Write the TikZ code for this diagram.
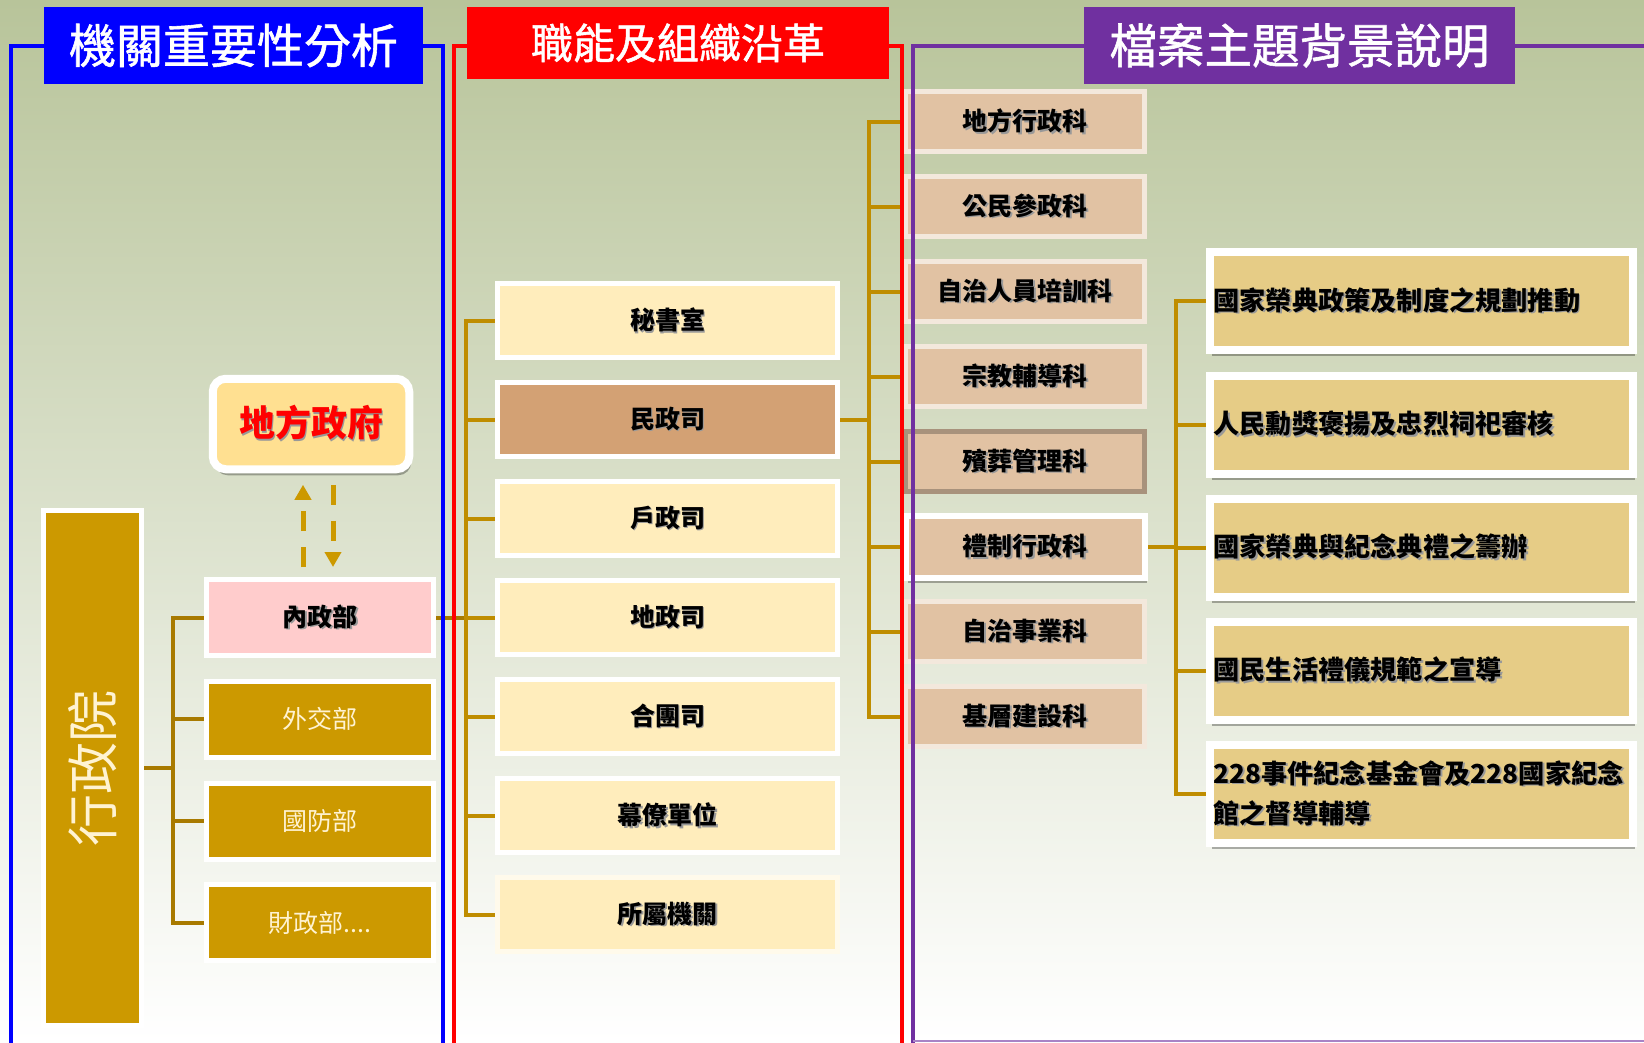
\documentclass[tikz,border=0pt]{standalone}
\usepackage{fontspec}
\setmainfont{Noto Sans CJK TC}
\newfontfamily\titlefont[FakeBold=1.2]{Noto Sans CJK TC}
\usetikzlibrary{shadows,arrows.meta}
\definecolor{bgtop}{RGB}{184,196,154}
\definecolor{bgmid}{RGB}{218,226,202}
\definecolor{gold}{RGB}{204,153,0}
\definecolor{lline}{RGB}{168,122,0}
\definecolor{mline}{RGB}{191,141,0}
\definecolor{cream}{RGB}{255,237,188}
\definecolor{minz}{RGB}{211,161,116}
\definecolor{kefill}{RGB}{225,194,163}
\definecolor{kebd}{RGB}{243,232,220}
\definecolor{binbd}{RGB}{168,146,124}
\definecolor{rfill}{RGB}{230,204,134}
\definecolor{pinkf}{RGB}{255,204,204}
\definecolor{localf}{RGB}{255,224,145}
\definecolor{ptitle}{RGB}{112,48,160}
\definecolor{goldtxt}{RGB}{255,243,210}
\pgfdeclarelayer{bg}
\pgfdeclarelayer{lines}
\pgfdeclarelayer{front}
\pgfsetlayers{bg,lines,main,front}
\newcommand{\shtxt}[1]{\leavevmode\rlap{\kern1.8pt\raisebox{-1.8pt}{\textcolor{black!40}{#1}}}#1}
\begin{document}
\begin{tikzpicture}[x=1pt,y=-1pt,
  box/.style={rectangle, inner sep=0pt, outer sep=0pt, line width=5pt, draw=white},
  lbox/.style={box, minimum width=227pt, minimum height=76pt, font=\fontsize{25}{30}\selectfont},
  mbox/.style={box, minimum width=340pt, minimum height=74pt, fill=cream, font=\fontsize{25}{30}\selectfont\bfseries},
  kbox/.style={box, draw=kebd, minimum width=239pt, minimum height=60pt, fill=kefill, font=\fontsize{25}{30}\selectfont\bfseries},
  rbox/.style={box, line width=8pt, minimum width=423.5pt, minimum height=98pt, fill=rfill, text width=416pt, align=left,
     font=\fontsize{26.2}{40}\selectfont\bfseries,
     drop shadow={shadow xshift=2pt, shadow yshift=-6pt, opacity=.3, fill=black}},
  lconn/.style={line width=4pt, draw=lline},
  mconn/.style={line width=4pt, draw=mline},
  darr/.style={line width=5pt, draw=gold, dash pattern=on 20pt off 16pt, -{Triangle[width=16pt,length=15pt]}},
  frame/.style={line width=4pt},
  title/.style={inner sep=0pt, outer sep=0pt, text=white}
]
\useasboundingbox (0,0) rectangle (1644,1042);
\begin{pgfonlayer}{bg}
\shade[top color=bgtop, middle color=bgmid, bottom color=white] (0,0) rectangle (1644,1042);
\end{pgfonlayer}

% ---------- left column ----------
\node[box, fill=gold, minimum width=98pt, minimum height=515pt, text=goldtxt,
      font=\fontsize{52}{56}\selectfont] (eyuan) at (92.5,768) {\rotatebox{90}{行政院}};
\node[rectangle, rounded corners=13pt, draw=white, line width=8pt, fill=localf,
      minimum width=196.5pt, minimum height=90.5pt, inner sep=0pt, outer sep=0pt, text=red,
      font=\fontsize{36}{40}\selectfont\bfseries,
      drop shadow={shadow xshift=2pt, shadow yshift=-6pt, opacity=.3, fill=black}] (local) at (311,424) {\shtxt{地方政府}};
\node[lbox, fill=pinkf, font=\fontsize{25}{30}\selectfont\bfseries] (moi) at (320,617.5) {\shtxt{內政部}};
\node[lbox, fill=gold, text=goldtxt] (mofa) at (320,719) {外交部};
\node[lbox, fill=gold, text=goldtxt] (mnd) at (320,821) {國防部};
\node[lbox, fill=gold, text=goldtxt] (mof) at (320,922.5) {財政部....};

\coordinate (lt) at (173,0);
\coordinate (au) at (303,0);
\coordinate (ad) at (333,0);
\begin{pgfonlayer}{lines}
\draw[lconn] (eyuan.east) -- (eyuan.east -| lt);
\draw[lconn] (moi.west) -- (moi.west -| lt) -- (mof.west -| lt) -- (mof.west);
\draw[lconn] (mofa.west -| lt) -- (mofa.west);
\draw[lconn] (mnd.west -| lt) -- (mnd.west);
\end{pgfonlayer}
\draw[darr, shorten <=12.5pt, shorten >=15.5pt] (moi.north -| au) -- (local.south -| au);
\draw[darr, shorten <=15.5pt, shorten >=12.5pt] (local.south -| ad) -- (moi.north -| ad);

% ---------- middle column ----------
\node[mbox] (mishu) at (667.5,320.5) {\shtxt{秘書室}};
\node[mbox, fill=minz] (minzheng) at (667.5,419.5) {\shtxt{民政司}};
\node[mbox] (huzheng) at (667.5,518.5) {\shtxt{戶政司}};
\node[mbox] (dizheng) at (667.5,617.5) {\shtxt{地政司}};
\node[mbox] (hetuan) at (667.5,716.5) {\shtxt{合團司}};
\node[mbox] (muliao) at (667.5,815.5) {\shtxt{幕僚單位}};
\node[mbox, draw=white!70!cream] (suoshu) at (667.5,914.5) {\shtxt{所屬機關}};

\coordinate (mt) at (466,0);
\coordinate (kt) at (869,0);
\begin{pgfonlayer}{lines}
\draw[lconn] (moi.east) -- (moi.east -| mt);
\draw[mconn] (mishu.west) -- (mishu.west -| mt) -- (suoshu.west -| mt) -- (suoshu.west);
\foreach \n in {minzheng,huzheng,dizheng,hetuan,muliao} {\draw[mconn] (\n.west -| mt) -- (\n.west);}
\draw[mconn] (minzheng.east) -- (minzheng.east -| kt);
\end{pgfonlayer}

% ---------- section column ----------
\node[kbox] (k1) at (1025,121.5) {\shtxt{地方行政科}};
\node[kbox] (k2) at (1025,206.5) {\shtxt{公民參政科}};
\node[kbox] (k3) at (1025,291.5) {\shtxt{自治人員培訓科}};
\node[kbox] (k4) at (1025,376.5) {\shtxt{宗教輔導科}};
\node[kbox, draw=binbd] (k5) at (1025,461.5) {\shtxt{殯葬管理科}};
\node[kbox, draw=white, line width=6pt, minimum height=62pt,
      drop shadow={shadow xshift=2pt, shadow yshift=-5pt, opacity=.3, fill=black}] (k6) at (1025,547) {\shtxt{禮制行政科}};
\node[kbox] (k7) at (1025,631.5) {\shtxt{自治事業科}};
\node[kbox] (k8) at (1025,716.5) {\shtxt{基層建設科}};

\coordinate (rt) at (1176,0);
\begin{pgfonlayer}{lines}
\draw[mconn] (k1.west) -- (k1.west -| kt) -- (k8.west -| kt) -- (k8.west);
\foreach \n in {k2,k3,k4,k5,k6,k7} {\draw[mconn] (\n.west -| kt) -- (\n.west);}
\draw[mconn] (k6.east) -- (k6.east -| rt);
\end{pgfonlayer}

% ---------- right column ----------
\node[rbox] (r1) at (1421.5,301) {\shtxt{國家榮典政策及制度之規劃推動}};
\node[rbox] (r2) at (1421.5,424.5) {\shtxt{人民勳獎褒揚及忠烈祠祀審核}};
\node[rbox] (r3) at (1421.5,547.5) {\shtxt{國家榮典與紀念典禮之籌辦}};
\node[rbox] (r4) at (1421.5,670.5) {\shtxt{國民生活禮儀規範之宣導}};
\node[rbox] (r5) at (1421.5,794) {\shtxt{228事件紀念基金會及228國家紀念}\\\shtxt{館之督導輔導}};
\begin{pgfonlayer}{lines}
\draw[mconn] (r1.west) -- (r1.west -| rt) -- (r5.west -| rt) -- (r5.west);
\foreach \n in {r2,r3,r4} {\draw[mconn] (\n.west -| rt) -- (\n.west);}
\end{pgfonlayer}

% ---------- frames and titles ----------
\begin{pgfonlayer}{front}
\draw[frame, draw=blue] (11,1044) -- (11,45.5) -- (442.5,45.5) -- (442.5,1044);
\draw[frame, draw=red] (454,1044) -- (454,45.5) -- (902,45.5) -- (902,1044);
\draw[frame, draw=ptitle] (913,1044) -- (913,45.5) -- (1646,45.5);
\draw[line width=2pt, draw=ptitle!60] (913,1041) -- (1644,1041);
\node[title, fill=blue, minimum width=379pt, minimum height=77pt,
      font=\fontsize{47}{50}\titlefont] (t1) at (233.5,45.5) {機關重要性分析};
\node[title, fill=red, minimum width=422pt, minimum height=72pt,
      font=\fontsize{42}{46}\titlefont] (t2) at (678,43) {職能及組織沿革};
\node[title, fill=ptitle, minimum width=431pt, minimum height=77pt,
      font=\fontsize{47.5}{50}\titlefont] (t3) at (1299.5,45.5) {檔案主題背景說明};
\end{pgfonlayer}
\end{tikzpicture}
\end{document}
